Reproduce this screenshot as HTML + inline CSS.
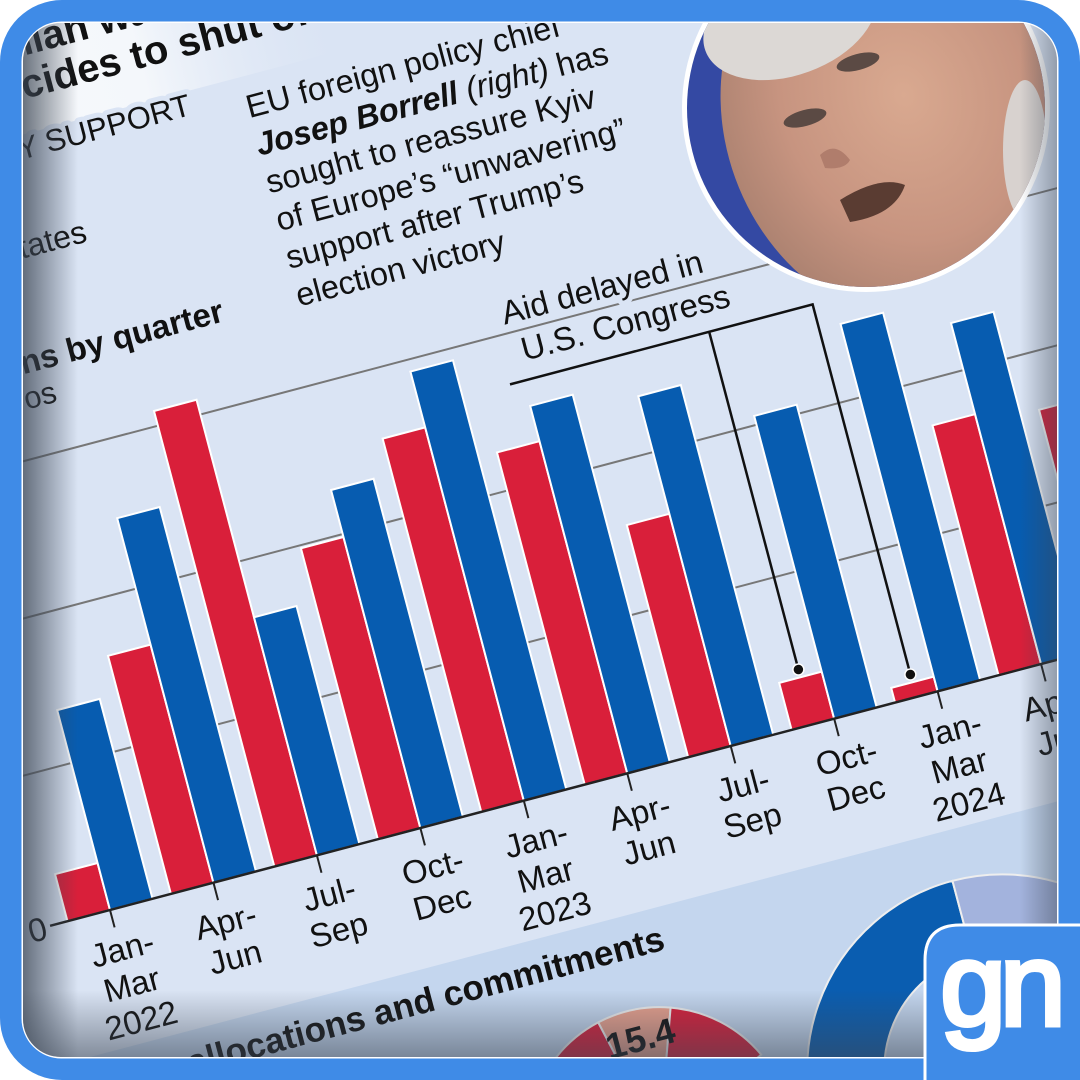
<!DOCTYPE html>
<html><head><meta charset="utf-8">
<style>
html,body{margin:0;padding:0;background:#fff;width:1080px;height:1080px;overflow:hidden;}
svg{display:block;font-family:"Liberation Sans",sans-serif;}
</style></head>
<body>
<svg id="chart" width="1080" height="1080" viewBox="0 0 1080 1080">
  <defs>
    <clipPath id="inner"><rect x="23" y="23" width="1034" height="1034" rx="38"/></clipPath>
    <clipPath id="logoClip"><path d="M925 1080 L925 960 Q925 925 960 925 L1080 925 L1080 1080 Z"/></clipPath>
    <linearGradient id="leftShade" x1="0" x2="1" y1="0" y2="0">
      <stop offset="0" stop-color="#3c4654" stop-opacity="0.75"/>
      <stop offset="1" stop-color="#3c4654" stop-opacity="0"/>
    </linearGradient>
    <linearGradient id="botShade" x1="0" x2="0" y1="0" y2="1">
      <stop offset="0" stop-color="#3c4654" stop-opacity="0"/>
      <stop offset="1" stop-color="#3c4654" stop-opacity="0.55"/>
    </linearGradient>
    <linearGradient id="rightShade" x1="1" x2="0" y1="0" y2="0">
      <stop offset="0" stop-color="#3c4654" stop-opacity="0.45"/>
      <stop offset="1" stop-color="#3c4654" stop-opacity="0"/>
    </linearGradient>
    <linearGradient id="whiteBand" x1="0" x2="1" y1="0" y2="0">
      <stop offset="0" stop-color="#ffffff"/>
      <stop offset="0.75" stop-color="#f4f7fb"/>
      <stop offset="1" stop-color="#dae4f4" stop-opacity="0"/>
    </linearGradient>
    <radialGradient id="face" cx="0.55" cy="0.45" r="0.6">
      <stop offset="0" stop-color="#d9a990"/>
      <stop offset="0.6" stop-color="#c79480"/>
      <stop offset="1" stop-color="#a9806f"/>
    </radialGradient>
  </defs>

  <rect x="0" y="0" width="1080" height="1080" rx="62" fill="#3f8be7"/>
  <rect x="21.5" y="21.5" width="1037" height="1037" rx="40" fill="#fff"/>

  <g clip-path="url(#inner)">
    <rect x="0" y="0" width="1080" height="1080" fill="#dae4f4"/>
    <g id="plot" transform="translate(110,910) rotate(-14.8)"></g>

    <!-- photo -->
    <g>
      <circle cx="866" cy="108" r="184" fill="#fff"/>
      <clipPath id="photoClip"><circle cx="866" cy="108" r="179"/></clipPath>
      <g clip-path="url(#photoClip)">
        <rect x="680" y="-80" width="380" height="380" fill="#3449a3"/>
        <ellipse cx="895" cy="120" rx="170" ry="205" fill="url(#face)" transform="rotate(-20 895 120)"/>
        <ellipse cx="790" cy="20" rx="90" ry="55" fill="#dcd8d5" transform="rotate(-20 790 20)"/>
        <ellipse cx="1025" cy="150" rx="22" ry="70" fill="#d8d2cf"/>
        <ellipse cx="805" cy="118" rx="22" ry="8" fill="#5b4a44" transform="rotate(-15 805 118)"/>
        <ellipse cx="858" cy="62" rx="22" ry="8" fill="#5b4a44" transform="rotate(-15 858 62)"/>
        <path d="M820 155 Q835 140 850 160 Q845 170 825 168 Z" fill="#b07d6c"/>
        <path d="M840 200 Q880 175 905 185 Q895 215 850 222 Z" fill="#5a3c32"/>
      </g>
    </g>

    <rect x="23" y="23" width="55" height="1034" fill="url(#leftShade)"/>
    <rect x="23" y="990" width="1034" height="67" fill="url(#botShade)"/>
    <rect x="1020" y="23" width="37" height="1034" fill="url(#rightShade)"/>
  </g>

  <!-- logo -->
  <g>
    <path d="M925 1080 L925 960 Q925 925 960 925 L1080 925 L1080 1080 Z" fill="#3f8be7" stroke="#fff" stroke-width="3"/>
    <rect x="926.5" y="1058" width="160" height="30" fill="#3f8be7"/>
    <rect x="1058" y="926.5" width="30" height="160" fill="#3f8be7"/>
    <text x="1000" y="1025" text-anchor="middle" font-size="118" fill="#fff" stroke="#fff" stroke-width="5" letter-spacing="-6" clip-path="url(#logoClip)">gn</text>
  </g>

<script>
const NS = "http://www.w3.org/2000/svg";
const categories = ["Jan-Mar 2022","Apr-Jun","Jul-Sep","Oct-Dec","Jan-Mar 2023","Apr-Jun","Jul-Sep","Oct-Dec","Jan-Mar 2024","Apr-Jun","Jul-Sep"];
const tickLabels = [["Jan-","Mar","2022"],["Apr-","Jun"],["Jul-","Sep"],["Oct-","Dec"],["Jan-","Mar","2023"],["Apr-","Jun"],["Jul-","Sep"],["Oct-","Dec"],["Jan-","Mar","2024"],["Apr-","Jun"],["Jul-","Sep"]];
const europeValues = [1.6, 8.1, 15.5, 9.9, 12.7, 11.3, 7.9, 1.6, 0.5, 8.5, 8.1];
const usValues = [6.8, 12.4, 8.1, 11.5, 14.6, 12.5, 11.9, 10.3, 12.5, 11.6, 11.0];
const gridValues = [0, 5, 10, 15];
const delayedIdx = [7, 8];

const plot = document.getElementById('plot');
const STEP = 107, BARW = 44, UNIT = 30.4;
function xPos(i){ return i * STEP; }
function yPos(v){ return -v * UNIT; }
function mk(tag, attrs, parent){
  const e = document.createElementNS(NS, tag);
  for (const k in attrs) e.setAttribute(k, attrs[k]);
  (parent || plot).appendChild(e);
  return e;
}

// white band with headline
const band = mk('rect', {x:-400, y:-1200, width:860, height:428, fill:'url(#whiteBand)'});


const h1 = mk('text', {x:22, y:-848, 'font-size':40, 'font-weight':'bold', fill:'#111'});
h1.textContent = 'Ukrainian war: Trump';


const h2 = mk('text', {x:78, y:-806, 'font-size':40, 'font-weight':'bold', fill:'#111'});
h2.textContent = 'decides to shut off supplies';



// gridlines
gridValues.forEach(function(v, i){
  if (v === 0) return;
  const g = mk('line', {x1:-300, x2:1300, y1:yPos(v), y2:yPos(v), stroke:'#777', 'stroke-width':2});
  
  
});

function label(txt, x, y, size, extra, name){
  const t = mk('text', Object.assign({x:x, y:y, 'font-size':size, fill:'#111', stroke:'#dae4f4', 'stroke-width':10, 'paint-order':'stroke', 'stroke-linejoin':'round'}, extra || {}));
  t.textContent = txt;
  
  
  return t;
}
label('MILITARY SUPPORT', 283, -748, 31, {'text-anchor':'end'}, 'section-title');
label('United States', 150, -652, 32, {'text-anchor':'end'}, 'legend-united-states');
label('Donations by quarter', 262, -540, 33, {'text-anchor':'end', 'font-weight':'bold'}, 'chart-title');
label('€bn, in euros', 80, -505, 31, {'text-anchor':'end'}, 'chart-unit');

// paragraph
const para = mk('text', {x:337, y:-730, 'font-size':32.5, fill:'#111', stroke:'#dae4f4', 'stroke-width':10, 'paint-order':'stroke'});


const paraLines = [
  [['EU foreign policy chief','']],
  [['Josep Borrell','bi'],[' (right)','i'],[' has','']],
  [['sought to reassure Kyiv','']],
  [['of Europe\u2019s \u201cunwavering\u201d','']],
  [['support after Trump\u2019s','']],
  [['election victory','']]
];
paraLines.forEach(function(line, li){
  line.forEach(function(seg, si){
    const ts = document.createElementNS(NS, 'tspan');
    if (si === 0){ ts.setAttribute('x', 337); ts.setAttribute('dy', li === 0 ? 0 : 39); }
    if (seg[1].indexOf('b') >= 0) ts.setAttribute('font-weight', 'bold');
    if (seg[1].indexOf('i') >= 0) ts.setAttribute('font-style', 'italic');
    ts.textContent = seg[0];
    para.appendChild(ts);
  });
});

// bottom band
const bb = mk('rect', {x:-400, y:137, width:1900, height:800, fill:'#c4d6ee'});


const at = mk('text', {x:528, y:180, 'font-size':35, 'font-weight':'bold', fill:'#111', 'text-anchor':'end'});
at.textContent = 'Military allocations and commitments';



// pie
const pieSlices = [40, 25, 35];
const pieColors = ['#d61f3a', '#e7a08d', '#d61f3a'];
function arcPath(cx, cy, R, r, a0, a1){
  const p = function(rad, a){ const t = (a - 90) * Math.PI / 180; return [cx + rad*Math.cos(t), cy + rad*Math.sin(t)]; };
  const large = (a1 - a0) > 180 ? 1 : 0;
  const A = p(R, a0), B = p(R, a1);
  if (r === 0) return 'M' + cx + ' ' + cy + ' L' + A + ' A' + R + ' ' + R + ' 0 ' + large + ' 1 ' + B + ' Z';
  const C = p(r, a1), D = p(r, a0);
  return 'M' + A + ' A' + R + ' ' + R + ' 0 ' + large + ' 1 ' + B + ' L' + C + ' A' + r + ' ' + r + ' 0 ' + large + ' 0 ' + D + ' Z';
}
let acc = -65;
pieSlices.forEach(function(s, i){
  const deg = s / 100 * 130;
  const sl = mk('path', {d:arcPath(473, 362, 132, 0, acc, acc + deg), fill:pieColors[i], stroke:'#eee', 'stroke-width':2});
  
  
  acc += deg;
});
const pl = mk('text', {x:480, y:272, 'font-size':36, 'font-weight':'bold', fill:'#111', 'text-anchor':'middle'});
pl.textContent = '15.4';



// donut
const donutShares = [62, 38];
const donutColors = ['#0a5db0', '#a3b3dd'];
let dacc = 360 - donutShares[0] / 100 * 360;
donutShares.forEach(function(s, i){
  const deg = s / 100 * 360;
  const seg = mk('path', {d:arcPath(822, 382, 195, 118, dacc, dacc + deg - 0.01), fill:donutColors[i], stroke:'#eee', 'stroke-width':2});
  
  
  dacc = (dacc + deg) % 360;
});

// bars
categories.forEach(function(c, i){
  const x = xPos(i);
  const r = mk('rect', {x:x - BARW, y:yPos(europeValues[i]), width:BARW, height:-yPos(europeValues[i]), fill:'#d91f3a', stroke:'#fff', 'stroke-width':2});
  
  
  const b = mk('rect', {x:x, y:yPos(usValues[i]), width:BARW, height:-yPos(usValues[i]), fill:'#075cb0', stroke:'#fff', 'stroke-width':2});
  
  
});

// axis
const ax = mk('line', {x1:-62, x2:1300, y1:0, y2:0, stroke:'#222', 'stroke-width':2.5});


const zero = mk('text', {x:-66, y:12, 'font-size':33, fill:'#111', 'text-anchor':'end'});
zero.textContent = '0';



categories.forEach(function(c, i){
  const x = xPos(i);
  const tk = mk('line', {x1:x, x2:x, y1:0, y2:18, stroke:'#222', 'stroke-width':2});
  
  
  const t = mk('text', {x:x + 2, y:52, 'font-size':33, fill:'#111', 'text-anchor':'middle'});
  
  
  tickLabels[i].forEach(function(l, li){
    const ts = document.createElementNS(NS, 'tspan');
    ts.setAttribute('x', x + 2);
    ts.setAttribute('dy', li === 0 ? 0 : 37);
    ts.textContent = l;
    t.appendChild(ts);
  });
});

// annotation
const aX0 = 531, aTop = 406;
const at1 = label('Aid delayed in', aX0, -465, 33, {}, 'annotation-line-1');
const at2 = label('U.S. Congress', aX0 + 10, -425, 33, {}, 'annotation-line-2');
const xa = xPos(delayedIdx[0]) - BARW/2, xb = xPos(delayedIdx[1]) - BARW/2;
const ann = mk('path', {d:'M' + (aX0 - 10) + ' ' + (-aTop) + ' L' + xb + ' ' + (-aTop) + ' L' + xb + ' ' + (yPos(europeValues[delayedIdx[1]]) - 6) +
  ' M' + xa + ' ' + (-aTop) + ' L' + xa + ' ' + (yPos(europeValues[delayedIdx[0]]) - 6), fill:'none', stroke:'#111', 'stroke-width':2.5});


delayedIdx.forEach(function(idx){
  const d = mk('circle', {cx:xPos(idx) - BARW/2, cy:yPos(europeValues[idx]) - 8, r:5.5, fill:'#111', stroke:'#fff', 'stroke-width':1.5});
  
  
});
</script>
</svg>
</body></html>
